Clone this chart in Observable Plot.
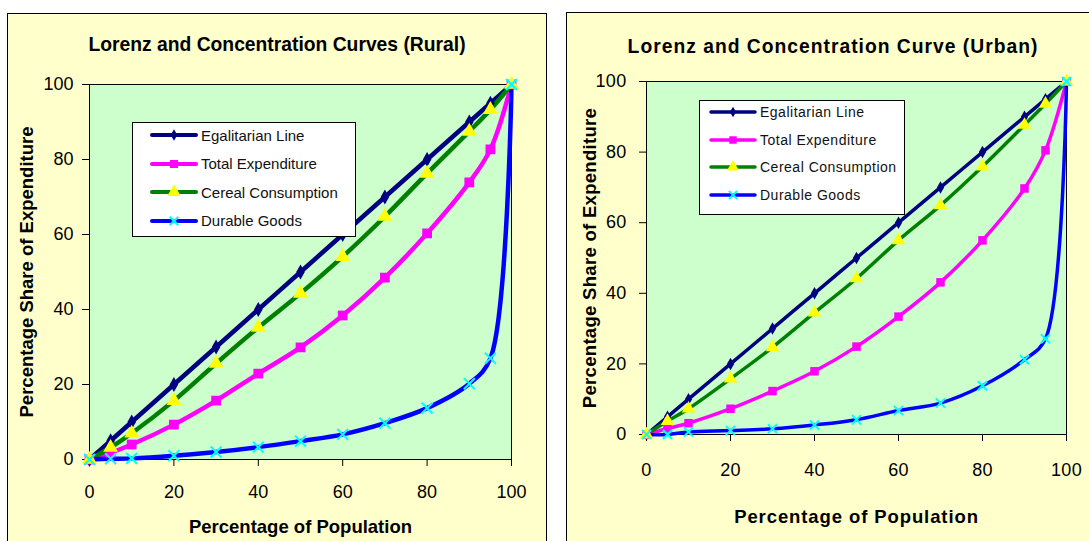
<!DOCTYPE html>
<html><head><meta charset="utf-8">
<script src="https://cdn.jsdelivr.net/npm/d3@7"></script>
<script src="https://cdn.jsdelivr.net/npm/@observablehq/plot@0.6"></script>
<style>
html,body{margin:0;padding:0;background:#fff;}
body{width:1089px;height:541px;overflow:hidden;position:relative;font-family:"Liberation Sans",Arial,sans-serif;}
.panel{position:absolute;box-sizing:border-box;background:#FFFFCC;border:1px solid #000;}
.chart{position:absolute;}
.legend{position:absolute;box-sizing:border-box;background:#fff;border:1px solid #000;}
.legend .row{position:absolute;display:flex;align-items:center;white-space:nowrap;color:#111;height:20px;}
.legend .row svg{display:block;}
</style></head><body>
<div class="panel" style="left:7px;top:13px;width:540px;height:545px"></div>
<div class="panel" style="left:566px;top:12px;width:545px;height:545px"></div>
<div id="rural" class="chart" style="left:8px;top:14px"></div>
<div id="urban" class="chart" style="left:567px;top:13px"></div>
<div id="legRural" class="legend" style="left:132px;top:122px;width:224px;height:115px"></div>
<div id="legUrban" class="legend" style="left:699px;top:100px;width:206px;height:115px"></div>
<script>
// ---- data ----
const pctPop = [0, 5, 10, 20, 30, 40, 50, 60, 70, 80, 90, 95, 100];
const seriesNames = ["Egalitarian Line", "Total Expenditure", "Cereal Consumption", "Durable Goods"];
const xTicks = [0, 20, 40, 60, 80, 100];
const yTicks = [0, 20, 40, 60, 80, 100];

const ruralEgalitarian = [0, 5, 10, 20, 30, 40, 50, 60, 70, 80, 90, 95, 100];
const ruralTotalExp    = [0, 1.8, 4.0, 9.3, 15.7, 22.9, 29.9, 38.4, 48.5, 60.3, 73.9, 82.7, 100];
const ruralCereal      = [0, 3.2, 7.0, 15.7, 25.6, 35.2, 44.3, 54.1, 64.8, 76.3, 87.5, 93.3, 100];
const ruralDurable     = [0, 0.2, 0.3, 1.0, 2.0, 3.3, 4.9, 6.7, 9.7, 13.7, 20.2, 27.0, 100];

const urbanEgalitarian = [0, 5, 10, 20, 30, 40, 50, 60, 70, 80, 90, 95, 100];
const urbanTotalExp    = [0, 1.7, 3.2, 7.3, 12.3, 17.9, 24.9, 33.4, 43.1, 55.0, 69.7, 80.5, 100];
const urbanCereal      = [0, 3.8, 7.3, 15.8, 24.7, 34.5, 44.2, 55.0, 64.9, 75.9, 87.7, 93.7, 100];
const urbanDurable     = [0, 0, 0.7, 1.1, 1.6, 2.7, 4.2, 6.8, 8.9, 13.8, 21.2, 27.1, 100];

const ruralTitle = "Lorenz and Concentration Curves (Rural)";
const urbanTitle = "Lorenz and Concentration Curve (Urban)";
const xTitle = "Percentage of Population";
const yTitle = "Percentage Share of Expenditure";

// ---- styles ----
const styles = [
  {line: "#000080", symbol: "diamond", fill: "#000080", stroke: "none"},
  {line: "#FF00FF", symbol: "square", fill: "#FF00FF", stroke: "none"},
  {line: "#008000", symbol: "triangle", fill: "#FFFF00", stroke: "none"},
  {line: "#0000FF", symbol: "times", fill: "none", stroke: "#00FFFF"}
];

function rows(ys) { return pctPop.map((x, i) => ({x, y: ys[i]})); }

function chart(cfg) {
  const marks = [
    Plot.frame({fill: "#CCFFCC"}),
    Plot.frame({stroke: "#000", strokeWidth: 1}),
    Plot.axisX({ticks: xTicks, tickSize: 7, tickPadding: cfg.xPad, fontSize: 18, label: null, tickFormat: d => String(d)}),
    Plot.axisY({ticks: yTicks, tickSize: 7, tickPadding: cfg.yPad, fontSize: 18, label: null, tickFormat: d => String(d)})
  ];
  cfg.series.forEach((ys, k) => {
    const st = styles[k];
    marks.push(Plot.line(rows(ys), {x: "x", y: "y", stroke: st.line, strokeWidth: cfg.lw, curve: "catmull-rom", strokeLinejoin: "round"}));
  });
  cfg.series.forEach((ys, k) => {
    const st = styles[k];
    const r = cfg.r[k];
    marks.push(Plot.dot(rows(ys), {x: "x", y: "y", symbol: st.symbol, r, fill: st.fill, stroke: st.stroke, strokeWidth: st.symbol === "times" ? 2 : 0}));
  });
  const common = {text: d => d, fontWeight: "bold", fill: "#000", textAnchor: "middle", lineAnchor: "middle"};
  marks.push(Plot.text([cfg.title], {...common, frameAnchor: "top", dx: cfg.titleDx, dy: cfg.titleDy, fontSize: cfg.titleSize}));
  marks.push(Plot.text([xTitle], {...common, frameAnchor: "bottom", dy: cfg.xTitleDy, fontSize: cfg.axisTitleSize}));
  marks.push(Plot.text([yTitle], {...common, frameAnchor: "left", rotate: -90, dx: cfg.yTitleDx, fontSize: cfg.axisTitleSize}));
  return Plot.plot({
    width: cfg.width, height: cfg.height,
    marginLeft: cfg.ml, marginRight: cfg.mr, marginTop: cfg.mt, marginBottom: cfg.mb,
    x: {domain: [0, 100]},
    y: {domain: [0, 100]},
    style: {background: "transparent", color: "#000", fontFamily: "'Liberation Sans', Arial, sans-serif", overflow: "visible"},
    marks
  });
}

const rural = chart({
  width: 537, height: 527, ml: 81, mr: 34, mt: 70, mb: 82,
  xPad: 19, yPad: 9, lw: 4.5, r: [4.5, 5.5, 5.5, 5],
  series: [ruralEgalitarian, ruralTotalExp, ruralCereal, ruralDurable],
  title: ruralTitle, titleDx: -23.5, titleDy: -40, xTitleDy: 68, yTitleDx: -62,
  titleSize: 19.3, axisTitleSize: 18.5
});
document.getElementById("rural").append(rural);

const urban = chart({
  width: 522, height: 528, ml: 79, mr: 23, mt: 68, mb: 107,
  xPad: 22, yPad: 13, lw: 3.5, r: [3.8, 4.8, 5, 4.2],
  series: [urbanEgalitarian, urbanTotalExp, urbanCereal, urbanDurable],
  title: urbanTitle, titleDx: -23.5, titleDy: -35, xTitleDy: 83, yTitleDx: -56,
  titleSize: 19.3, axisTitleSize: 18.5
});
document.getElementById("urban").append(urban);
d3.select(urban).selectAll("text").style("letter-spacing", "0.3px");
d3.select(urban).selectAll("text").filter(function() { return this.textContent === urbanTitle; }).style("letter-spacing", "1px");
d3.select(urban).selectAll("text").filter(function() { return this.textContent === xTitle; }).style("letter-spacing", "0.9px");

// ---- legends ----
const symbolMap = {diamond: d3.symbolDiamond, square: d3.symbolSquare, triangle: d3.symbolTriangle, times: d3.symbolTimes};
function legend(el, cfg) {
  seriesNames.forEach((name, k) => {
    const st = styles[k];
    const row = document.createElement("div");
    row.className = "row";
    row.style.left = cfg.left + "px";
    row.style.top = (cfg.first + k * cfg.step - 10 - 1) + "px";
    row.style.fontSize = cfg.fontSize + "px";
    row.style.letterSpacing = cfg.ls + "px";
    const svg = d3.create("svg").attr("width", 48).attr("height", 20);
    svg.append("line").attr("x1", 2).attr("x2", 46).attr("y1", 10).attr("y2", 10)
      .attr("stroke", st.line).attr("stroke-width", cfg.lw).attr("stroke-linecap", "round");
    const r = cfg.r[k];
    svg.append("path").attr("transform", "translate(24,10)")
      .attr("d", d3.symbol(symbolMap[st.symbol], Math.PI * r * r)())
      .attr("fill", st.fill).attr("stroke", st.stroke).attr("stroke-width", st.symbol === "times" ? 2 : 0);
    row.append(svg.node());
    const span = document.createElement("span");
    span.textContent = name;
    span.style.marginLeft = "3px";
    row.append(span);
    el.append(row);
  });
}
legend(document.getElementById("legRural"), {left: 17, first: 13, step: 28.5, fontSize: 15, ls: 0, lw: 4, r: [3.5, 4.5, 5, 4]});
legend(document.getElementById("legUrban"), {left: 9, first: 12, step: 27.7, fontSize: 14, ls: 0.5, lw: 3.5, r: [3.2, 4.2, 4.5, 3.8]});
</script>
</body></html>
